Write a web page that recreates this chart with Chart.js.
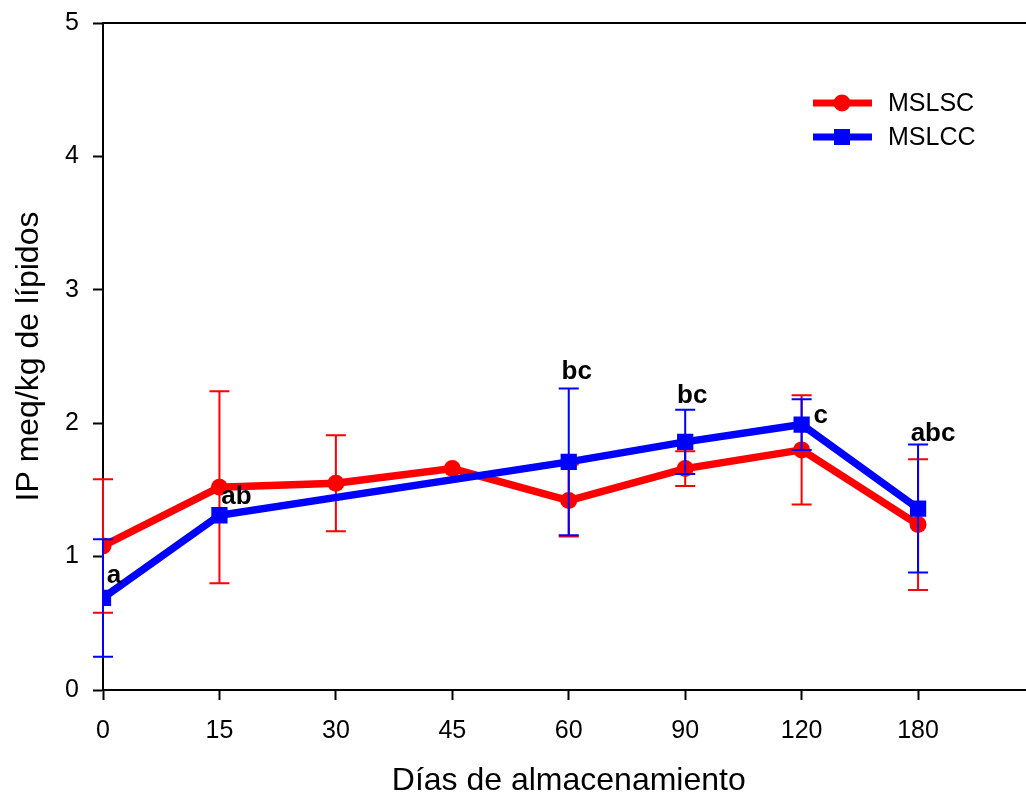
<!DOCTYPE html>
<html>
<head>
<meta charset="utf-8">
<script src="https://cdn.jsdelivr.net/npm/chart.js@4"></script>
<style>
  html, body { margin: 0; padding: 0; background: #fff; overflow: hidden; }
  #wrap { width: 1046px; height: 798px; }
</style>
</head>
<body>
<div id="wrap"><canvas id="chart" width="1046" height="798"></canvas></div>
<script>
// storage days (categories) and peroxide index values
const days = ['0', '15', '30', '45', '60', '90', '120', '180'];
const mslsc = [1.08, 1.52, 1.55, 1.66, 1.42, 1.66, 1.80, 1.24];
const mslscSd = [0.50, 0.72, 0.36, 0, 0.27, 0.13, 0.41, 0.49];
const mslcc = [0.69, 1.31, null, null, 1.71, 1.86, 1.99, 1.36];
const mslccSd = [0.44, 0, null, null, 0.55, 0.24, 0.19, 0.48];
const letters = ['a', 'ab', '', '', 'bc', 'bc', 'c', 'abc'];
const yTicks = [0, 1, 2, 3, 4, 5];

Chart.defaults.font.family = 'Arial, "Liberation Sans", sans-serif';
Chart.defaults.color = '#000';

// vertical error bars with caps, drawn right after each dataset
const errorBars = {
  id: 'errorBars',
  afterDatasetDraw(chart, args) {
    const ds = chart.data.datasets[args.index];
    if (!ds.sd) return;
    const { ctx, scales: { x, y } } = chart;
    ctx.save();
    ctx.strokeStyle = ds.borderColor;
    ctx.lineWidth = 2;
    ds.data.forEach((p, i) => {
      const sd = ds.sd[i];
      if (p.y == null || !sd) return;
      const px = x.getPixelForValue(p.x);
      const top = y.getPixelForValue(p.y + sd);
      const bot = y.getPixelForValue(p.y - sd);
      ctx.beginPath();
      ctx.moveTo(px, top); ctx.lineTo(px, bot);
      ctx.moveTo(px - 10, top); ctx.lineTo(px + 10, top);
      ctx.moveTo(px - 10, bot); ctx.lineTo(px + 10, bot);
      ctx.stroke();
    });
    ctx.restore();
  }
};

// top and right frame lines
const frame = {
  id: 'frame',
  beforeDatasetsDraw(chart) {
    const { ctx, chartArea: a } = chart;
    ctx.save();
    ctx.strokeStyle = '#000';
    ctx.lineWidth = 2;
    ctx.beginPath();
    ctx.moveTo(a.left, a.top); ctx.lineTo(a.right, a.top); ctx.lineTo(a.right, a.bottom);
    ctx.stroke();
    ctx.restore();
  }
};

// significance letters over the MSLCC series
const letterOffsets = [[11, -15, 'pt'], [17, -11, 'pt'], null, null, [8, -10, 'err'], [7, -7, 'err'], [19, -2, 'pt'], [15, -4, 'err']];
const sigLetters = {
  id: 'sigLetters',
  afterDraw(chart) {
    const { ctx, scales: { x, y } } = chart;
    ctx.save();
    ctx.font = 'bold 26px Arial, "Liberation Sans", sans-serif';
    ctx.fillStyle = '#000';
    ctx.textAlign = 'center';
    ctx.textBaseline = 'alphabetic';
    letters.forEach((t, i) => {
      const off = letterOffsets[i];
      if (!t || !off) return;
      const v = off[2] === 'err' ? mslcc[i] + mslccSd[i] : mslcc[i];
      ctx.fillText(t, x.getPixelForValue(i) + off[0], y.getPixelForValue(v) + off[1]);
    });
    ctx.restore();
  }
};

// legend: line + marker + label
const lineLegend = {
  id: 'lineLegend',
  afterDraw(chart) {
    const { ctx } = chart;
    ctx.save();
    chart.data.datasets.forEach((ds, i) => {
      const ly = 103 + i * 34;
      ctx.strokeStyle = ds.borderColor;
      ctx.lineWidth = 7;
      ctx.beginPath();
      ctx.moveTo(813, ly); ctx.lineTo(872, ly);
      ctx.stroke();
      ctx.fillStyle = ds.borderColor;
      if (ds.pointStyle === 'rect') {
        ctx.fillRect(842 - 8, ly - 8, 16, 16);
      } else {
        ctx.beginPath();
        ctx.arc(842, ly, 8.5, 0, Math.PI * 2);
        ctx.fill();
      }
      ctx.fillStyle = '#000';
      ctx.font = '25px Arial, "Liberation Sans", sans-serif';
      ctx.textBaseline = 'middle';
      ctx.fillText(ds.label, 888, ly + 1);
    });
    ctx.restore();
  }
};

const axisGrid = {
  drawOnChartArea: false,
  drawTicks: true,
  tickLength: 10,
  tickWidth: 2,
  tickColor: '#000'
};

new Chart(document.getElementById('chart'), {
  type: 'line',
  data: {
    datasets: [
      {
        label: 'MSLSC',
        data: mslsc.map((v, i) => ({ x: i, y: v })),
        sd: mslscSd,
        borderColor: '#ff0000',
        backgroundColor: '#ff0000',
        borderWidth: 7.5,
        pointStyle: 'circle',
        pointRadius: 8.5,
        pointBorderWidth: 0,
        order: 1
      },
      {
        label: 'MSLCC',
        data: mslcc.map((v, i) => ({ x: i, y: v })),
        sd: mslccSd,
        borderColor: '#0000ff',
        backgroundColor: '#0000ff',
        borderWidth: 7.5,
        pointStyle: 'rect',
        pointRadius: 11.5,
        pointBorderWidth: 0,
        spanGaps: true,
        order: 0
      }
    ]
  },
  options: {
    responsive: false,
    animation: false,
    layout: { padding: { top: 23, right: 6, bottom: 0, left: 0 } },
    plugins: {
      legend: { display: false },
      tooltip: { enabled: false }
    },
    scales: {
      x: {
        type: 'linear',
        min: 0,
        max: 8,
        afterBuildTicks: s => { s.ticks = days.map((d, i) => ({ value: i })); },
        afterFit: s => { s.height = 108; },
        ticks: {
          callback: v => days[v],
          font: { size: 25 },
          color: '#000',
          padding: 16,
          maxRotation: 0,
          autoSkip: false
        },
        grid: axisGrid,
        border: { color: '#000', width: 2 },
        title: {
          display: true,
          text: 'Días de almacenamiento',
          color: '#000',
          font: { size: 32, lineHeight: 1 },
          padding: { top: 0, bottom: 1 }
        }
      },
      y: {
        min: 0,
        max: 5,
        afterBuildTicks: s => { s.ticks = yTicks.map(v => ({ value: v })); },
        afterFit: s => { s.width = 103; },
        ticks: {
          font: { size: 25, lineHeight: 0.6 },
          color: '#000',
          padding: 14
        },
        grid: axisGrid,
        border: { color: '#000', width: 2 },
        title: {
          display: true,
          text: 'IP meq/kg de lípidos',
          color: '#000',
          font: { size: 32, lineHeight: 1.2 },
          padding: { top: 10, bottom: 0 }
        }
      }
    }
  },
  plugins: [frame, errorBars, sigLetters, lineLegend]
});
</script>
</body>
</html>
